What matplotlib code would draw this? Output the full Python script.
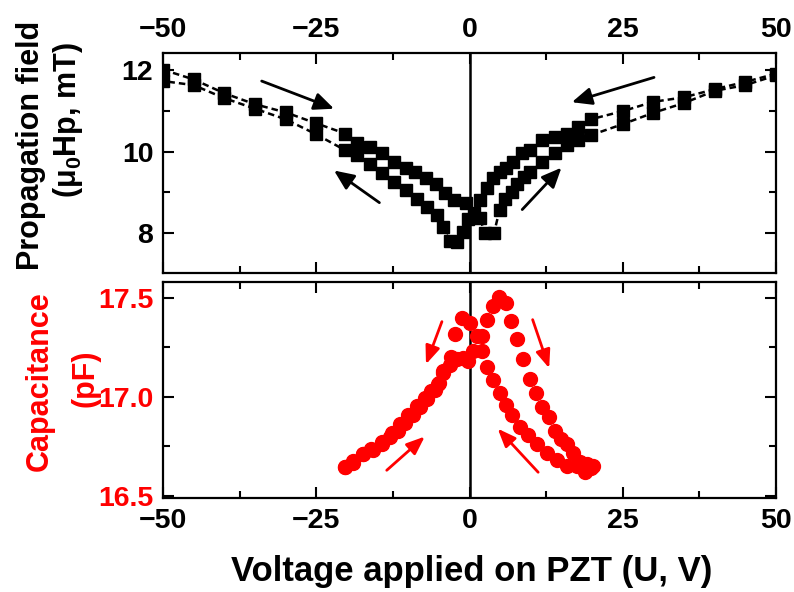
import matplotlib
matplotlib.use("Agg")
import matplotlib.pyplot as plt
from matplotlib.ticker import MultipleLocator

plt.rcParams["font.family"] = ["Liberation Sans", "DejaVu Sans"]
plt.rcParams["font.weight"] = "bold"
plt.rcParams["mathtext.fontset"] = "custom"
plt.rcParams["mathtext.rm"] = "Liberation Sans:bold"
plt.rcParams["mathtext.it"] = "Liberation Sans:bold"
plt.rcParams["mathtext.bf"] = "Liberation Sans:bold"

# Propagation field, forward sweep (-50 V -> +50 V)
volt_up = [-50, -45, -40, -35, -30, -25, -20.3, -18.3, -16.2, -14.2, -12.3, -10.4,
           -8.9, -7.1, -5.4, -4.0, -2.6, -0.5, 1.7, 2.5, 4.0, 4.9, 5.8, 6.9, 7.8,
           8.9, 9.9, 11.9, 13.9, 15.9, 17.7, 19.8, 25, 30, 35, 40, 45, 50]
field_up = [12.02, 11.78, 11.44, 11.17, 10.97, 10.70, 10.45, 10.21, 10.12, 9.98, 9.75,
            9.59, 9.51, 9.35, 9.22, 8.98, 8.81, 8.73, 8.37, 8.00, 8.00, 8.57, 8.85,
            9.02, 9.22, 9.39, 9.51, 9.75, 9.96, 10.16, 10.30, 10.41, 10.68, 10.96,
            11.20, 11.50, 11.64, 11.88]

# Propagation field, backward sweep (+50 V -> -50 V)
volt_down = [50, 45, 40, 35, 30, 25, 19.8, 17.7, 15.9, 13.9, 11.9, 9.9, 8.5, 7.1, 6.0,
             4.9, 3.9, 2.8, 1.7, 0.7, -0.2, -1.0, -2.1, -3.2, -4.3, -5.3, -7.0, -8.6,
             -10.4, -12.3, -14.2, -16.2, -18.3, -20.3, -25, -30, -35, -40, -45, -50]
field_down = [11.92, 11.72, 11.54, 11.34, 11.23, 11.00, 10.80, 10.61, 10.45, 10.37,
              10.29, 10.04, 9.96, 9.75, 9.59, 9.51, 9.35, 9.12, 8.81, 8.50, 8.36, 8.03,
              7.79, 7.80, 8.14, 8.44, 8.65, 8.85, 9.06, 9.26, 9.48, 9.71, 9.92, 10.04,
              10.43, 10.80, 11.06, 11.32, 11.64, 11.74]

# Capacitance, forward sweep (-20 V -> +20 V)
cap_volt_up = [-20.3, -19.0, -17.3, -16.0, -14.3, -12.7, -11.3, -10.0, -8.6, -7.3, -6.2,
               -5.1, -4.3, -3.2, -2.1, -1.0, -0.2, 0.6, 2.0, 2.8, 3.8, 4.8, 5.9, 6.8,
               7.8, 8.8, 9.8, 10.8, 11.9, 12.9, 14.0, 14.9, 15.9, 16.9, 18.0, 19.1, 20.1]
cap_up = [16.645, 16.665, 16.71, 16.735, 16.775, 16.82, 16.865, 16.91, 16.955, 16.995,
          17.03, 17.065, 17.12, 17.16, 17.19, 17.195, 17.18, 17.23, 17.31, 17.39, 17.46,
          17.505, 17.475, 17.385, 17.29, 17.19, 17.09, 17.02, 16.95, 16.90, 16.83, 16.79,
          16.76, 16.715, 16.67, 16.66, 16.65]

# Capacitance, backward sweep (+20 V -> -20 V)
cap_volt_down = [19.8, 18.8, 17.5, 15.9, 14.2, 12.6, 11.0, 9.6, 8.2, 6.9, 5.9, 4.9, 3.9,
                 2.9, 2.0, 1.2, 0.0, -1.2, -2.4, -3.0, -4.3, -4.9, -5.6, -7.0, -8.1,
                 -9.2, -10.5, -11.6, -13.0, -14.3, -15.7, -17.3, -19.0, -20.3]
cap_down = [16.64, 16.62, 16.65, 16.65, 16.68, 16.715, 16.765, 16.81, 16.85, 16.91,
            16.96, 17.02, 17.085, 17.15, 17.23, 17.31, 17.375, 17.40, 17.32, 17.20,
            17.13, 17.07, 17.035, 16.99, 16.95, 16.91, 16.87, 16.83, 16.80, 16.765,
            16.73, 16.71, 16.675, 16.645]

x_ticks = [-50, -25, 0, 25, 50]
field_ticks = [8, 10, 12]
cap_ticks = [16.5, 17.0, 17.5]

RED = "#ff0000"
W, H = 794, 592
fig = plt.figure(figsize=(W / 100, H / 100), dpi=100)


def frac(l, t, r, b):
    return [l / W, 1 - b / H, (r - l) / W, (b - t) / H]


ax1 = fig.add_axes(frac(163, 53, 776, 273))
ax2 = fig.add_axes(frac(163, 282, 776, 498))

for ax in (ax1, ax2):
    ax.set_xlim(-50, 50)
    ax.set_xticks(x_ticks)
    ax.xaxis.set_minor_locator(MultipleLocator(12.5))
    for s in ax.spines.values():
        s.set_linewidth(1.6)
    ax.tick_params(which="both", direction="in", top=True, right=True, width=1.5,
                   labelsize=20.5, pad=7)
    ax.tick_params(which="major", length=8)
    ax.tick_params(which="minor", length=5)
    ax.axvline(0, color="black", lw=1.8, zorder=1)

# upper panel
ax1.set_ylim(7.02, 12.43)
ax1.set_yticks(field_ticks)
ax1.yaxis.set_minor_locator(MultipleLocator(1))
ax1.tick_params(axis="x", labeltop=True, labelbottom=False)
for xs, ys in ((volt_up, field_up), (volt_down, field_down)):
    ax1.plot(xs, ys, color="black", lw=1.8, ls=(0, (2.6, 1.6)), marker="s", ms=8.3,
             mfc="black", mec="black", zorder=3)

arrow_k = dict(arrowstyle="-|>,head_length=0.5,head_width=0.22", color="black",
               lw=2.0, mutation_scale=24, shrinkA=0, shrinkB=0)
for (x0, y0), (x1, y1) in [((-33.9, 11.74), (-22.1, 11.06)),
                           ((-14.7, 8.75), (-22.1, 9.54)),
                           ((30.1, 11.83), (16.7, 11.22)),
                           ((8.6, 8.58), (15.0, 9.61))]:
    ax1.annotate("", xy=(x1, y1), xytext=(x0, y0), arrowprops=arrow_k)

# lower panel
ax2.set_ylim(16.49, 17.58)
ax2.set_yticks(cap_ticks)
ax2.set_yticklabels(["16.5", "17.0", "17.5"])
ax2.yaxis.set_minor_locator(MultipleLocator(0.25))
for lab in ax2.get_yticklabels():
    lab.set_color(RED)
for xs, ys in ((cap_volt_up, cap_up), (cap_volt_down, cap_down)):
    ax2.plot(xs, ys, ls="none", marker="o", ms=10, mfc=RED, mec=RED, zorder=3)

arrow_r = dict(arrowstyle="-|>,head_length=0.5,head_width=0.2", color=RED, lw=2.0,
               mutation_scale=22, shrinkA=0, shrinkB=0)
for (x0, y0), (x1, y1) in [((-4.5, 17.38), (-7.1, 17.165)),
                           ((-13.5, 16.63), (-7.3, 16.80)),
                           ((10.3, 17.39), (13.0, 17.145)),
                           ((11.2, 16.62), (4.6, 16.84))]:
    ax2.annotate("", xy=(x1, y1), xytext=(x0, y0), arrowprops=arrow_r)

# axis titles
fig.text(31 / W, 1 - 145 / H, "Propagation field", rotation=90, fontsize=22,
         ha="center", va="center")
fig.text(68 / W, 1 - 120 / H, "(μ$_\\mathregular{0}$Hp, mT)", rotation=90,
         fontsize=22, ha="center", va="center")
fig.text(40 / W, 1 - 381 / H, "Capacitance", rotation=90, fontsize=22, color=RED,
         ha="center", va="center")
fig.text(86 / W, 1 - 378 / H, "(pF)", rotation=90, fontsize=22, color=RED,
         ha="center", va="center")
fig.text(472 / W, 1 - 572 / H, "Voltage applied on PZT (U, V)", fontsize=25,
         ha="center", va="center")

fig.savefig("out.png", dpi=100)
